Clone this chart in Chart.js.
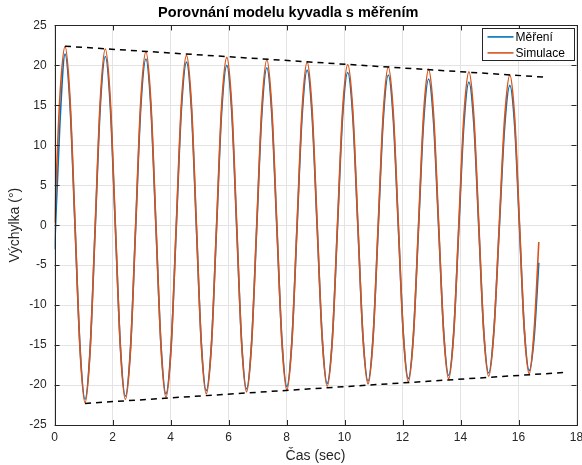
<!DOCTYPE html>
<html>
<head>
<meta charset="utf-8">
<script src="https://cdn.jsdelivr.net/npm/chart.js@4.4.1/dist/chart.umd.min.js"></script>
<style>
html,body{margin:0;padding:0;background:#fff;}
#wrap{width:582px;height:465px;}
</style>
</head>
<body>
<div id="wrap"><canvas id="c" width="582" height="465"></canvas></div>
<script>
// time samples (s)
const t = [
 0, 0.18, 0.36,
 0.53, 0.705, 0.88, 1.05,
 1.225, 1.40, 1.575, 1.75,
 1.92, 2.095, 2.27, 2.44,
 2.62, 2.795, 2.97, 3.15,
 3.32, 3.495, 3.67, 3.84,
 4.02, 4.195, 4.37, 4.55,
 4.72, 4.89, 5.06, 5.23,
 5.41, 5.585, 5.76, 5.94,
 6.11, 6.28, 6.45, 6.62,
 6.795, 6.97, 7.145, 7.32,
 7.49, 7.665, 7.84, 8.01,
 8.185, 8.36, 8.535, 8.71,
 8.88, 9.055, 9.23, 9.40,
 9.58, 9.755, 9.93, 10.11,
 10.285, 10.46, 10.635, 10.81,
 10.985, 11.16, 11.335, 11.51,
 11.68, 11.855, 12.03, 12.20,
 12.375, 12.55, 12.725, 12.90,
 13.07, 13.245, 13.42, 13.59,
 13.765, 13.94, 14.115, 14.29,
 14.46, 14.63, 14.80, 14.97,
 15.15, 15.335, 15.52, 15.70,
 15.87, 16.035, 16.20, 16.37,
 16.54, 16.70
];
// measured deflection (deg)
const mereni = [
 -3.0, 12.5, 21.4,
 15.1, -0.2, -15.5, -21.8,
 -15.5, -0.4, 14.8, 21.1,
 14.9, -0.2, -15.2, -21.4,
 -15.2, -0.3, 14.6, 20.8,
 14.7, -0.2, -15.0, -21.1,
 -15.0, -0.4, 14.3, 20.4,
 14.4, -0.2, -14.7, -20.7,
 -14.8, -0.4, 14.1, 20.0,
 14.1, -0.3, -14.6, -20.5,
 -14.6, -0.4, 13.8, 19.7,
 13.9, -0.3, -14.4, -20.2,
 -14.4, -0.4, 13.6, 19.4,
 13.7, -0.2, -14.1, -19.8,
 -14.1, -0.4, 13.4, 19.1,
 13.5, -0.2, -13.9, -19.5,
 -13.9, -0.4, 13.2, 18.8,
 13.3, -0.2, -13.7, -19.2,
 -13.7, -0.5, 12.8, 18.3,
 12.9, -0.3, -13.4, -18.8,
 -13.4, -0.5, 12.5, 17.9,
 12.6, -0.3, -13.2, -18.5,
 -13.2, -0.5, 12.2, 17.5,
 12.3, -0.4, -13.0, -18.2,
 -14.0, -4.7
];
// simulated deflection (deg)
const simulace = [
 0.3, 15.9, 22.35,
 15.9, 0.1, -15.7, -22.2,
 -15.7, -0.1, 15.6, 22.05,
 15.7, 0.1, -15.4, -21.8,
 -15.5, -0.1, 15.4, 21.7,
 15.4, 0.1, -15.2, -21.5,
 -15.3, -0.1, 15.0, 21.25,
 15.1, 0.1, -14.9, -21.1,
 -15.0, -0.1, 14.9, 21.0,
 14.9, 0.1, -14.7, -20.85,
 -14.8, -0.1, 14.6, 20.7,
 14.7, 0.1, -14.6, -20.6,
 -14.6, -0.1, 14.4, 20.4,
 14.5, 0.1, -14.2, -20.15,
 -14.3, 0.0, 14.2, 20.1,
 14.3, 0.1, -14.0, -19.85,
 -14.1, 0.0, 14.0, 19.8,
 14.1, 0.1, -13.9, -19.6,
 -13.9, -0.1, 13.8, 19.5,
 13.9, 0.2, -13.6, -19.2,
 -13.6, 0.0, 13.6, 19.2,
 13.6, 0.2, -13.3, -18.9,
 -13.4, -0.1, 13.3, 18.8,
 13.3, 0.1, -13.1, -18.6,
 -13.1, -2.1
];
// envelope lines
const envTopX = [0.36, 17.01];
const envTopY = [22.4, 18.5];
const envBotX = [1.05, 17.70];
const envBotY = [-22.3, -18.4];
// axes
const xTicks = [0, 2, 4, 6, 8, 10, 12, 14, 16, 18];
const yTicks = [-25, -20, -15, -10, -5, 0, 5, 10, 15, 20, 25];
const seriesNames = ['Měření', 'Simulace'];
const seriesColors = ['#0072BD', '#D95319'];
const titleText = 'Porovnání modelu kyvadla s měřením';
const xTitle = 'Čas (sec)';
const yTitle = 'Výchylka (°)';

const pts = (xs, ys) => xs.map((x, i) => ({x: x, y: ys[i]}));
const AX = '#262626';
const FONT = "'Liberation Sans', Arial, Helvetica, sans-serif";

const frame = {
  id: 'frame',
  afterDatasetsDraw(chart) {
    const {ctx, chartArea: a, scales: {x, y}} = chart;
    ctx.save();
    ctx.strokeStyle = AX;
    ctx.lineWidth = 1;
    ctx.beginPath();
    const L = 5;
    xTicks.forEach(v => {
      const px = Math.round(x.getPixelForValue(v)) + 0.5;
      ctx.moveTo(px, a.bottom); ctx.lineTo(px, a.bottom - L);
      ctx.moveTo(px, a.top); ctx.lineTo(px, a.top + L);
    });
    yTicks.forEach(v => {
      const py = Math.round(y.getPixelForValue(v)) + 0.5;
      ctx.moveTo(a.left, py); ctx.lineTo(a.left + L, py);
      ctx.moveTo(a.right, py); ctx.lineTo(a.right - L, py);
    });
    ctx.stroke();
    ctx.strokeRect(Math.round(a.left) + 0.5, Math.round(a.top) + 0.5,
                   Math.round(a.right - a.left), Math.round(a.bottom - a.top));
    // legend (top right, inside the axes)
    const bx = a.right - 95, by = a.top + 3, bw = 92, bh = 32;
    ctx.fillStyle = '#fff';
    ctx.fillRect(bx, by, bw, bh);
    ctx.strokeStyle = '#262626';
    ctx.strokeRect(Math.round(bx) + 0.5, Math.round(by) + 0.5, bw, bh);
    ctx.font = '12px ' + FONT;
    ctx.textBaseline = 'middle';
    ctx.textAlign = 'left';
    seriesNames.forEach((nm, i) => {
      const yy = by + 8.5 + i * 16;
      ctx.strokeStyle = seriesColors[i];
      ctx.lineWidth = 1.6;
      ctx.beginPath();
      ctx.moveTo(bx + 6, yy); ctx.lineTo(bx + 32, yy);
      ctx.stroke();
      ctx.fillStyle = '#000';
      ctx.fillText(nm, bx + 34, yy + 0.5);
    });
    ctx.restore();
  }
};

const white = {
  id: 'white',
  beforeDraw(chart) {
    const ctx = chart.ctx;
    ctx.save(); ctx.fillStyle = '#fff'; ctx.fillRect(0, 0, chart.width, chart.height); ctx.restore();
  }
};

new Chart(document.getElementById('c'), {
  type: 'line',
  data: {
    datasets: [
      {label: seriesNames[0], data: pts(t, mereni), borderColor: seriesColors[0], backgroundColor: seriesColors[0], borderWidth: 1.6, pointRadius: 0, cubicInterpolationMode: 'monotone', order: 2},
      {label: seriesNames[1], data: pts(t, simulace), borderColor: seriesColors[1], backgroundColor: seriesColors[1], borderWidth: 1.6, pointRadius: 0, cubicInterpolationMode: 'monotone', order: 1},
      {label: 'envTop', data: pts(envTopX, envTopY), borderColor: '#000', borderWidth: 1.5, borderDash: [6, 5], pointRadius: 0, order: 0},
      {label: 'envBot', data: pts(envBotX, envBotY), borderColor: '#000', borderWidth: 1.5, borderDash: [6, 5], pointRadius: 0, order: 0}
    ]
  },
  options: {
    responsive: false,
    animation: false,
    devicePixelRatio: 1,
    layout: {padding: {top: 0, right: 5.5, bottom: 0, left: 0}},
    plugins: {
      tooltip: {enabled: false},
      legend: {display: false},
      title: {display: true, text: titleText, color: '#000', font: {family: FONT, size: 14.5, weight: 'bold'}, padding: {top: 4, bottom: 4}}
    },
    scales: {
      x: {
        type: 'linear', min: 0, max: 18,
        afterBuildTicks: s => { s.ticks = xTicks.map(v => ({value: v})); },
        afterFit: s => { s.height = 40; s.paddingLeft = 0; s.paddingRight = 0; },
        grid: {color: '#e3e3e3', drawTicks: false},
        border: {display: false},
        ticks: {color: AX, padding: 5, font: {family: FONT, size: 12}, maxRotation: 0},
        title: {display: true, text: xTitle, color: AX, font: {family: FONT, size: 14}, padding: {top: 1, bottom: 0}}
      },
      y: {
        type: 'linear', min: -25, max: 25,
        afterBuildTicks: s => { s.ticks = yTicks.map(v => ({value: v})); },
        afterFit: s => { s.width = 54.6; s.paddingTop = 0; s.paddingBottom = 0; },
        grid: {color: '#e3e3e3', drawTicks: false},
        border: {display: false},
        ticks: {color: AX, padding: 8, font: {family: FONT, size: 12}},
        title: {display: true, text: yTitle, color: AX, font: {family: FONT, size: 14}, padding: {top: 7, bottom: 0}}
      }
    }
  },
  plugins: [white, frame]
});
</script>
</body>
</html>
